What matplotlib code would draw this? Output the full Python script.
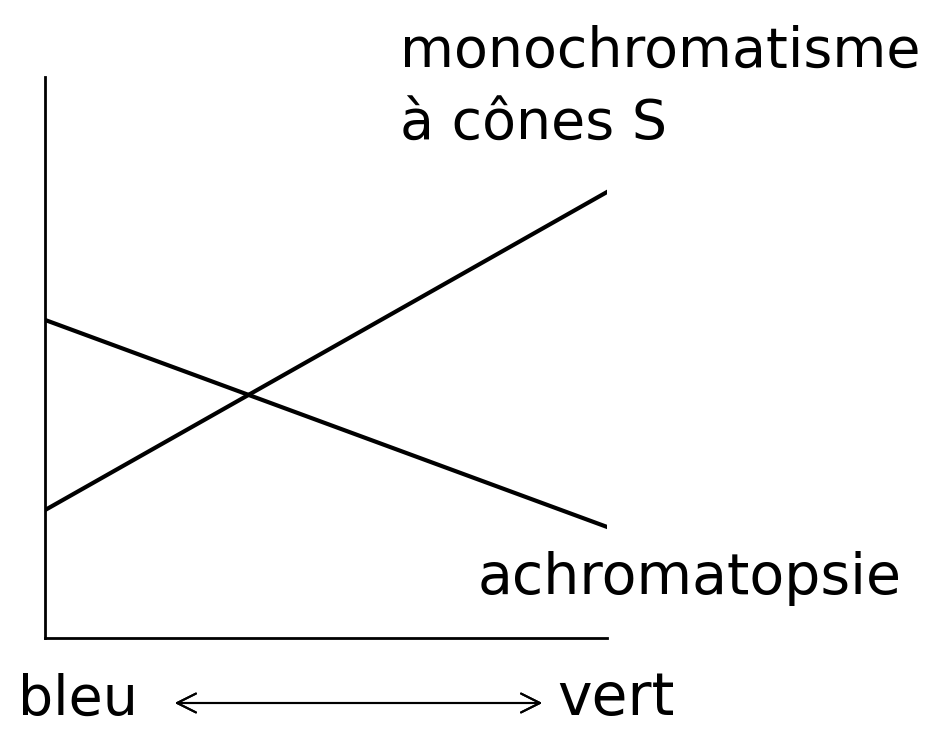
import matplotlib.pyplot as plt

# two hypothetical luminosity curves, from blue (left) to green (right)
x = [0, 1]
monochromatisme = [0.228, 0.795]
achromatopsie = [0.567, 0.198]

W, H = 933, 729
fig = plt.figure(figsize=(W / 100, H / 100), dpi=100)
ax = fig.add_axes([45 / W, (H - 638) / H, (607 - 45) / W, (638 - 77) / H])

ax.plot(x, monochromatisme, color='black', lw=3)
ax.plot(x, achromatopsie, color='black', lw=3)
ax.set_xlim(0, 1)
ax.set_ylim(0, 1)
ax.set_xticks([])
ax.set_yticks([])
for s in ['top', 'right']:
    ax.spines[s].set_visible(False)
for s in ['left', 'bottom']:
    ax.spines[s].set_linewidth(2)

fs = 40
fig.text(400 / W, 1 - 67 / H, 'monochromatisme', fontsize=fs, va='baseline')
fig.text(400 / W, 1 - 140 / H, 'à cônes S', fontsize=fs, va='baseline')
fig.text(478 / W, 1 - 594 / H, 'achromatopsie', fontsize=41, va='baseline')
fig.text(18 / W, 2 / H, 'bleu', fontsize=fs, va='bottom')
fig.text(557 / W, 2 / H, 'vert', fontsize=42, va='bottom')

fig.add_artist(plt.annotate('', xy=(545 / W, 1 - 703 / H), xytext=(172 / W, 1 - 703 / H),
                            xycoords='figure fraction', textcoords='figure fraction',
                            arrowprops=dict(arrowstyle='<->', lw=1.5, color='black',
                                            mutation_scale=34)))

fig.savefig('out.png', dpi=100)
